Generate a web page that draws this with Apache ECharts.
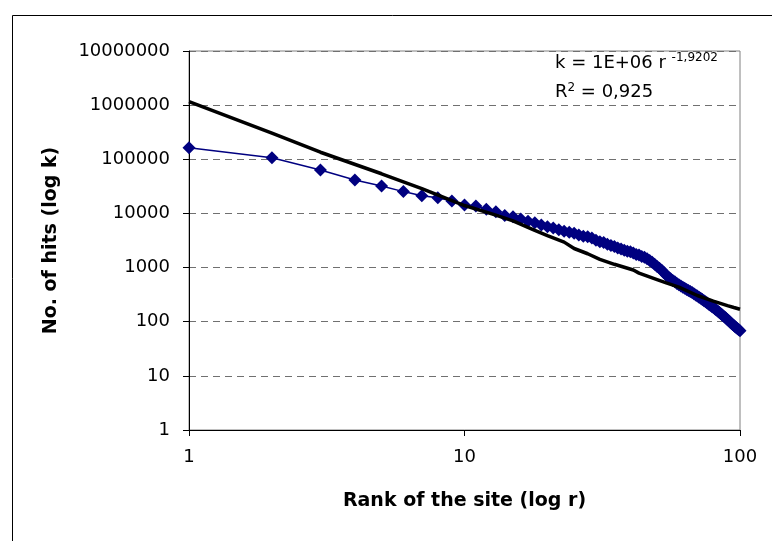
<!DOCTYPE html>
<html>
<head>
<meta charset="utf-8">
<script src="https://cdn.jsdelivr.net/npm/echarts@6/dist/echarts.min.js"></script>
<style>
  html, body { margin: 0; padding: 0; background: #fff; }
  #chart { width: 772px; height: 541px; }
</style>
</head>
<body>
<div id="chart"></div>
<script>
// ---- data ----
const ranks = [1,2,3,4,5,6,7,8,9,10,11,12,13,14,15,16,17,18,19,20,
  21,22,23,24,25,26,27,28,29,30,31,32,33,34,35,36,37,38,39,40,
  41,42,43,44,45,46,47,48,49,50,51,52,53,54,55,56,57,58,59,60,
  61,62,63,64,65,66,67,68,69,70,71,72,73,74,75,76,77,78,79,80,
  81,82,83,84,85,86,87,88,89,90,91,92,93,94,95,96,97,98,99,100];
const hits = [164000,107000,63500,41500,32100,25300,21300,19500,17000,14300,
  13700,12000,10700,9200,8700,7900,7200,6700,6100,5700,
  5400,5000,4700,4500,4300,4000,3800,3700,3500,3200,
  3000,2900,2700,2550,2450,2300,2200,2100,2000,1950,
  1850,1750,1700,1600,1550,1450,1350,1250,1150,1050,
  970,890,800,720,670,620,580,545,510,480,
  455,435,415,395,378,360,345,328,312,297,
  283,270,257,245,233,222,211,201,192,183,
  174,165,157,149,142,135,128,122,116,110,
  104,99,94,89,85,81,77,74,71,68];
const trendRanks = [1,2,3,5,7,10,13,15,18,20,23,25,28,31,35,41,43,50,54,60,70,80,90,95,100];
const trendHits = [1160000,305000,135000,54000,28600,14000,9300,7300,4850,3900,2950,2250,1800,1420,1150,900,790,600,520,435,305,240,198,183,170];
const xTickLabels = ['1','10','100'];
const yTickLabels = ['1','10','100','1000','10000','100000','1000000','10000000'];
const xTitle = 'Rank of the site (log r)';
const yTitle = 'No. of hits (log k)';
const eqMain = 'k = 1E+06 r ';
const eqExp = '-1,9202';
const r2Label = 'R';
const r2Sup = '2';
const r2Value = ' = 0,925';

const FONT = 'DejaVu Sans';
const chart = echarts.init(document.getElementById('chart'), null, { renderer: 'canvas' });

const option = {
  animation: false,
  backgroundColor: '#ffffff',
  grid: { left: 189, top: 51, right: 32, bottom: 111, show: true, borderColor: '#808080', borderWidth: 1 },
  xAxis: {
    type: 'log', logBase: 10, min: 1, max: 100, splitNumber: 2,
    axisLine: { lineStyle: { color: '#000', width: 1 } },
    axisTick: { show: true, length: 6, inside: false, lineStyle: { color: '#000' } },
    axisLabel: { fontFamily: FONT, fontSize: 18, color: '#000', margin: 18,
      formatter: v => xTickLabels[Math.round(Math.log10(v))] },
    splitLine: { show: false },
    minorTick: { show: false },
    name: xTitle, nameLocation: 'middle', nameGap: 62,
    nameTextStyle: { fontFamily: FONT, fontSize: 19, fontWeight: 'bold', color: '#000' }
  },
  yAxis: {
    type: 'log', logBase: 10, min: 1, max: 10000000, splitNumber: 7,
    axisLine: { lineStyle: { color: '#000', width: 1 } },
    axisTick: { show: true, length: 6, inside: false, lineStyle: { color: '#000' } },
    axisLabel: { fontFamily: FONT, fontSize: 18, color: '#000', margin: 19,
      formatter: v => yTickLabels[Math.round(Math.log10(v))] },
    splitLine: { show: true, lineStyle: { color: '#707070', width: 1, type: [7, 5] } },
    name: yTitle, nameLocation: 'middle', nameGap: 128, nameRotate: 90,
    nameTextStyle: { fontFamily: FONT, fontSize: 19, fontWeight: 'bold', color: '#000' }
  },
  series: [
    {
      type: 'line',
      data: ranks.map((r, i) => [r, hits[i]]),
      symbol: 'diamond', symbolSize: 13, showSymbol: true, clip: false,
      itemStyle: { color: '#000080' },
      lineStyle: { color: '#000080', width: 1.5 },
      z: 2
    },
    {
      type: 'line',
      data: trendRanks.map((r, i) => [r, trendHits[i]]),
      symbol: 'none', clip: false,
      lineStyle: { color: '#000', width: 3.5 },
      z: 3
    }
  ],
  graphic: [
    { type: 'rect', left: 10, top: 13, shape: { x: 0.5, y: 0.5, width: 800, height: 600 },
      style: { fill: 'none', stroke: '#000', lineWidth: 1 }, silent: true, z: -1 },
    { type: 'text', left: 555, top: 52,
      style: { text: '{m|' + eqMain + '}{s|' + eqExp + '}',
        rich: { m: { fontFamily: FONT, fontSize: 18, fill: '#000', verticalAlign: 'bottom', lineHeight: 20 },
                s: { fontFamily: FONT, fontSize: 12, fill: '#000', verticalAlign: 'top', lineHeight: 20, padding: [0,0,8,0] } } } },
    { type: 'text', left: 555, top: 82,
      style: { text: '{m|' + r2Label + '}{s|' + r2Sup + '}{m|' + r2Value + '}',
        rich: { m: { fontFamily: FONT, fontSize: 18, fill: '#000', lineHeight: 20 },
                s: { fontFamily: FONT, fontSize: 12, fill: '#000', lineHeight: 20, padding: [0,0,8,0] } } } }
  ]
};
chart.setOption(option);
</script>
</body>
</html>
